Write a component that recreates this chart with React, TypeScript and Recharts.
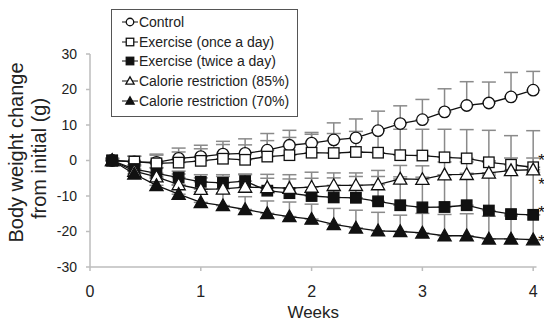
import React from 'react';
import { LineChart, Line, XAxis, YAxis, ErrorBar, Legend, Label } from 'recharts';

const FONT = "Arial, 'Liberation Sans', Helvetica, sans-serif";

const weeks = [0.2, 0.4, 0.6, 0.8, 1.0, 1.2, 1.4, 1.6, 1.8, 2.0, 2.2, 2.4, 2.6, 2.8, 3.0, 3.2, 3.4, 3.6, 3.8, 4.0];

const control = [0, -0.4, -0.5, 0.6, 1.1, 1.8, 2.0, 2.9, 4.3, 4.9, 5.8, 6.4, 8.4, 10.4, 11.5, 13.7, 15.5, 16.2, 17.9, 19.8];
const controlErr = [0.6, 1.6, 2.3, 2.9, 3.2, 3.6, 4.1, 4.7, 4.2, 3.0, 4.8, 5.3, 5.5, 5.0, 5.7, 6.5, 6.7, 5.9, 6.9, 5.3];

const exOnce = [0, -0.3, -0.8, -0.6, -0.1, 0.5, 0.2, 1.1, 1.5, 2.2, 2.1, 2.4, 2.2, 1.5, 1.4, 0.9, 0.6, -0.5, -1.2, -1.9];
const exOnceErr = [0.5, 1.5, 2.3, 3.0, 3.4, 4.0, 4.2, 4.5, 5.0, 5.2, 5.5, 5.8, 6.5, 7.3, 7.4, 7.9, 8.1, 9.0, 8.2, 10.3];

const exTwice = [0, -2.4, -3.6, -4.8, -6.0, -6.3, -5.8, -8.5, -9.2, -10.0, -10.4, -10.5, -11.5, -12.6, -13.2, -13.1, -12.6, -14.1, -15.1, -15.3];
const exTwiceErr = [0.6, 1.2, 1.6, 1.8, 2.0, 2.3, 2.0, 3.5, 4.0, 5.0, 5.5, 6.0, 7.0, 8.0, 8.5, 9.0, 9.0, 10.0, 11.0, 12.0];

const cr85 = [0, -3.0, -4.6, -6.8, -8.1, -8.0, -7.5, -7.6, -7.8, -7.5, -7.0, -7.0, -6.8, -5.2, -5.3, -4.0, -3.9, -3.5, -2.8, -2.6];
const cr85Err = [0.6, 1.5, 2.5, 3.0, 3.2, 3.5, 3.5, 3.7, 3.8, 4.2, 3.5, 3.5, 4.0, 3.8, 3.8, 3.6, 3.5, 3.4, 3.5, 3.3];

const cr70 = [0, -3.8, -7.0, -9.5, -11.8, -12.7, -13.8, -14.9, -15.8, -16.5, -18.0, -19.0, -19.8, -20.0, -20.4, -21.2, -21.2, -22.1, -22.1, -22.3];
const cr70Err = [0.5, 1.0, 2.0, 2.5, 3.0, 3.5, 3.6, 3.5, 4.1, 4.2, 4.5, 5.0, 5.2, 4.6, 5.5, 6.0, 6.2, 6.4, 6.5, 7.0];

const xTicks = [0, 1, 2, 3, 4];
const yTicks = [-30, -20, -10, 0, 10, 20, 30];

const seriesNames = [
  'Control',
  'Exercise (once a day)',
  'Exercise (twice a day)',
  'Calorie restriction (85%)',
  'Calorie restriction (70%)',
];
const seriesKeys = ['control', 'exOnce', 'exTwice', 'cr85', 'cr70'];
const seriesShapes = ['circle', 'square', 'square', 'triangle', 'triangle'];
const seriesFills = ['#fff', '#fff', '#111', '#fff', '#111'];
const seriesStar = [false, true, true, true, true];
const starOffsets = [0, -11, -6, 10.7, -2];

const data = weeks.map((w, i) => ({
  week: w,
  control: control[i],
  controlErr: [0, controlErr[i]],
  exOnce: exOnce[i],
  exOnceErr: [0, exOnceErr[i]],
  exTwice: exTwice[i],
  exTwiceErr: [0, exTwiceErr[i]],
  cr85: cr85[i],
  cr85Err: [0, cr85Err[i]],
  cr70: cr70[i],
  cr70Err: [0, cr70Err[i]],
}));

const LINE = '#111';
const AXIS = '#bdbdbd';
const TEXT = '#222';
const ERR = '#8a8a8a';

function Marker({ shape, fill, cx, cy, size }: any) {
  const s = size;
  if (shape === 'circle') {
    return <circle cx={cx} cy={cy} r={s * 0.5} fill={fill} stroke={LINE} strokeWidth={1.3} />;
  }
  if (shape === 'square') {
    return <rect x={cx - s / 2} y={cy - s / 2} width={s} height={s} fill={fill} stroke={LINE} strokeWidth={1.3} />;
  }
  const h = s * 0.95;
  return (
    <polygon
      points={`${cx},${cy - h * 0.58} ${cx + s * 0.55},${cy + h * 0.45} ${cx - s * 0.55},${cy + h * 0.45}`}
      fill={fill}
      stroke={LINE}
      strokeWidth={1.3}
      strokeLinejoin="miter"
    />
  );
}

const makeDot = (shape: string, fill: string) => (props: any) => {
  const { cx, cy, index } = props;
  if (cx == null || cy == null) return <g key={`d-${index}`} />;
  return (
    <g key={`d-${index}`}>
      <Marker shape={shape} fill={fill} cx={cx} cy={cy} size={shape === 'circle' ? 11.5 : shape === 'square' ? 10.5 : 12} />
    </g>
  );
};

const makeStar = (offset: number) => (props: any) => {
  const { x, y, index } = props;
  if (index !== weeks.length - 1) return null;
  return (
    <text key={`s-${index}`} x={x + 8.5} y={y + offset + 9.5} textAnchor="middle" fontSize={17} fill="#111" fontFamily={FONT}>
      *
    </text>
  );
};

const LegendContent = () => (
  <div
    style={{
      width: 187,
      height: 108,
      border: '1.5px solid #555',
      boxSizing: 'border-box',
      background: '#fff',
      position: 'relative',
      fontFamily: FONT,
      fontSize: 14,
      color: TEXT,
    }}
  >
    {seriesNames.map((name, i) => (
      <div
        key={name}
        style={{
          position: 'absolute',
          left: 8.9,
          top: 3.2 + i * 19.6,
          height: 18,
          lineHeight: '18px',
          display: 'flex',
          alignItems: 'center',
          whiteSpace: 'nowrap',
        }}
      >
        <svg width={18} height={12} style={{ display: 'block' }}>
          <line x1={1} y1={6} x2={17} y2={6} stroke={LINE} strokeWidth={1} />
          <Marker shape={seriesShapes[i]} fill={seriesFills[i]} cx={9} cy={6} size={7.5} />
        </svg>
        <span>{name}</span>
      </div>
    ))}
  </div>
);

const YTitle = (props: any) => {
  const vb = props.viewBox ?? { x: 0, y: 54, width: 90, height: 213 };
  const cy = vb.y + vb.height / 2;
  return (
    <g fontFamily={FONT} fontSize={20} fill={TEXT}>
      <text transform={`translate(${vb.x + 22.5},${cy - 8}) rotate(-90)`} textAnchor="middle">
        Body weight change
      </text>
      <text transform={`translate(${vb.x + 45.8},${cy - 2}) rotate(-90)`} textAnchor="middle">
        from initial (g)
      </text>
    </g>
  );
};

export default function App() {
  return (
    <div style={{ position: 'absolute', left: 0, top: 0, width: 544, height: 322, background: '#fff' }}>
      <LineChart
        width={544}
        height={322}
        data={data}
        margin={{ top: 54, right: 7.5, bottom: 0, left: 0 }}
        style={{ fontFamily: FONT }}
      >
        <XAxis
          dataKey="week"
          type="number"
          domain={[0, 4.03]}
          ticks={xTicks}
          interval={0}
          height={55}
          tickSize={4}
          tickMargin={15}
          axisLine={{ stroke: AXIS, strokeWidth: 1.5 }}
          tickLine={{ stroke: AXIS, strokeWidth: 1.5 }}
          tick={{ fill: TEXT, fontSize: 16, fontFamily: FONT }}
        >
          <Label value="Weeks" position="insideBottom" offset={4} fontSize={17} fill={TEXT} fontFamily={FONT} />
        </XAxis>
        <YAxis
          type="number"
          domain={[-30, 30]}
          ticks={yTicks}
          interval={0}
          width={90}
          tickSize={4}
          tickMargin={9}
          axisLine={{ stroke: AXIS, strokeWidth: 1.5 }}
          tickLine={{ stroke: AXIS, strokeWidth: 1.5 }}
          tick={{ fill: TEXT, fontSize: 14, fontFamily: FONT }}
          allowDataOverflow
        >
          <Label content={(p: any) => <YTitle {...p} />} />
        </YAxis>
        <Legend
          layout="vertical"
          align="center"
          verticalAlign="middle"
          content={() => <LegendContent />}
          wrapperStyle={{ left: 111, top: 9, width: 187, height: 108 }}
        />
        {seriesKeys.map((k) => (
          <Line
            key={`err-${k}`}
            dataKey={k}
            stroke="none"
            dot={false}
            activeDot={false}
            legendType="none"
            isAnimationActive={false}
          >
            <ErrorBar dataKey={`${k}Err`} direction="y" width={7} stroke={ERR} strokeWidth={1.5} />
          </Line>
        ))}
        {seriesKeys.map((k, i) => (
          <Line
            key={k}
            dataKey={k}
            name={seriesNames[i]}
            stroke={LINE}
            strokeWidth={1.3}
            dot={makeDot(seriesShapes[i], seriesFills[i])}
            activeDot={false}
            isAnimationActive={false}
            label={seriesStar[i] ? makeStar(starOffsets[i]) : false}
          />
        ))}
      </LineChart>
    </div>
  );
}
